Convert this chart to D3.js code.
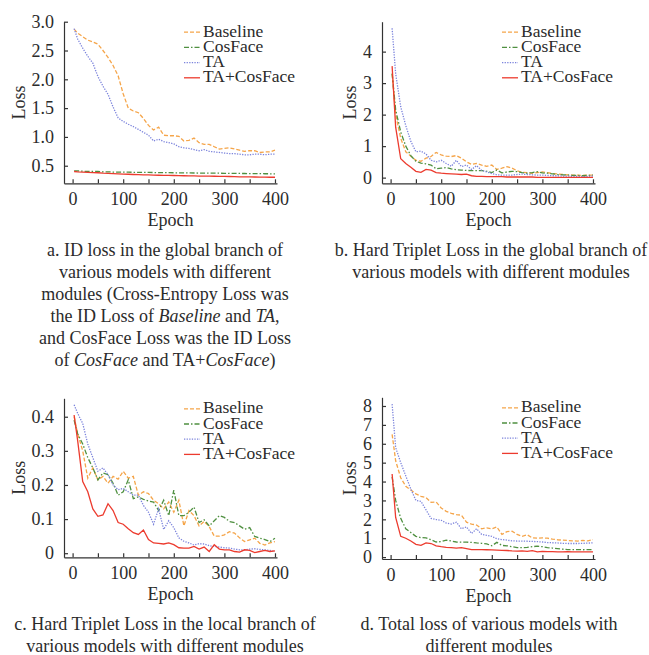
<!DOCTYPE html>
<html>
<head>
<meta charset="utf-8">
<script src="https://cdn.jsdelivr.net/npm/d3@7"></script>
<style>
  body { margin: 0; background: #fff; }
  svg text { font-family: "Liberation Serif", "Times New Roman", serif; fill: #2b2b2b; }
  .axis path, .axis line { stroke: #333; stroke-width: 1.2; }
  .axis text { font-size: 18px; }
</style>
</head>
<body>
<svg id="chart" width="649" height="655"></svg>
<script>
const epochs = [3, 10, 20, 30, 40, 50, 60, 70, 80, 90, 100, 110, 120, 130, 140, 150, 160, 170, 180, 190, 200,
  210, 220, 230, 240, 250, 260, 270, 280, 290, 300, 310, 320, 330, 340, 350, 360, 370, 380, 390, 400]
const seriesNames = ['Baseline', 'CosFace', 'TA', 'TA+CosFace']
const xTicks = [0, 50, 100, 150, 200, 250, 300, 350, 400]

// a. ID loss, global branch
const aBaseline = [2.87, 2.80, 2.74, 2.68, 2.65, 2.61, 2.50, 2.38, 2.24, 2.06, 1.75, 1.50, 1.45, 1.42, 1.32, 1.20, 1.12, 1.17, 1.03, 1.02,
  1.02, 1.01, 0.93, 0.94, 0.98, 0.90, 0.87, 0.87, 0.83, 0.79, 0.80, 0.81, 0.79, 0.77, 0.75, 0.76, 0.76, 0.73, 0.74, 0.74, 0.77]
const aCosFace = [0.41, 0.41, 0.405, 0.40, 0.40, 0.40, 0.395, 0.395, 0.39, 0.39, 0.39, 0.388, 0.386, 0.385, 0.384, 0.383, 0.382, 0.381, 0.38, 0.38,
  0.378, 0.377, 0.376, 0.375, 0.374, 0.373, 0.372, 0.371, 0.37, 0.37, 0.369, 0.368, 0.367, 0.366, 0.365, 0.364, 0.363, 0.362, 0.361, 0.36, 0.36]
const aTA = [2.88, 2.70, 2.54, 2.40, 2.28, 2.05, 1.88, 1.74, 1.52, 1.33, 1.27, 1.22, 1.18, 1.13, 1.08, 1.03, 0.93, 0.96, 0.92, 0.90,
  0.88, 0.83, 0.81, 0.80, 0.78, 0.76, 0.78, 0.75, 0.74, 0.73, 0.72, 0.71, 0.71, 0.70, 0.69, 0.69, 0.70, 0.70, 0.69, 0.70, 0.70]
const aTACosFace = [0.40, 0.395, 0.39, 0.385, 0.38, 0.378, 0.372, 0.368, 0.364, 0.36, 0.356, 0.352, 0.348, 0.345, 0.342, 0.34, 0.337, 0.335, 0.333, 0.331,
  0.33, 0.328, 0.326, 0.325, 0.323, 0.32, 0.319, 0.318, 0.317, 0.316, 0.315, 0.313, 0.31, 0.307, 0.305, 0.305, 0.304, 0.303, 0.302, 0.30, 0.30]
const aTicks = [0.5, 1.0, 1.5, 2.0, 2.5, 3.0]

// b. hard triplet loss, global branch
const bBaseline = [3.30, 2.00, 1.25, 0.82, 0.68, 0.55, 0.52, 0.62, 0.67, 0.80, 0.72, 0.68, 0.67, 0.70, 0.62, 0.50, 0.42, 0.45, 0.40, 0.36,
  0.40, 0.26, 0.30, 0.35, 0.30, 0.22, 0.17, 0.16, 0.14, 0.16, 0.18, 0.16, 0.13, 0.12, 0.10, 0.09, 0.08, 0.08, 0.07, 0.08, 0.08]
const bCosFace = [3.30, 2.15, 1.45, 1.00, 0.70, 0.52, 0.46, 0.44, 0.40, 0.28, 0.30, 0.32, 0.28, 0.25, 0.24, 0.23, 0.22, 0.22, 0.22, 0.20,
  0.16, 0.24, 0.15, 0.18, 0.20, 0.19, 0.16, 0.14, 0.16, 0.19, 0.15, 0.14, 0.12, 0.10, 0.09, 0.08, 0.07, 0.07, 0.06, 0.07, 0.08]
const bTA = [4.74, 3.30, 2.25, 1.65, 1.15, 0.82, 0.84, 0.75, 0.55, 0.50, 0.55, 0.45, 0.36, 0.55, 0.35, 0.40, 0.26, 0.38, 0.23, 0.18,
  0.13, 0.09, 0.08, 0.08, 0.08, 0.10, 0.11, 0.10, 0.09, 0.08, 0.08, 0.07, 0.06, 0.06, 0.05, 0.05, 0.04, 0.04, 0.03, 0.04, 0.05]
const bTACosFace = [3.54, 1.60, 0.60, 0.45, 0.33, 0.20, 0.17, 0.26, 0.24, 0.16, 0.14, 0.13, 0.12, 0.11, 0.10, 0.11, 0.06, 0.04, 0.04, 0.03,
  0.03, 0.03, 0.03, 0.02, 0.02, 0.02, 0.02, 0.02, 0.02, 0.01, 0.01, 0.01, 0.01, 0.01, 0.01, 0.01, 0.01, 0.01, 0.01, 0.01, 0.01]
const bTicks = [0, 1, 2, 3, 4]

// c. hard triplet loss, local branch
const cBaseline = [0.40, 0.35, 0.30, 0.22, 0.25, 0.215, 0.225, 0.205, 0.225, 0.217, 0.24, 0.22, 0.225, 0.17, 0.18, 0.175, 0.155, 0.145, 0.13, 0.15,
  0.12, 0.155, 0.08, 0.125, 0.11, 0.08, 0.093, 0.078, 0.05, 0.05, 0.054, 0.063, 0.059, 0.045, 0.034, 0.039, 0.044, 0.029, 0.024, 0.03, 0.034]
const cCosFace = [0.39, 0.35, 0.32, 0.28, 0.25, 0.215, 0.235, 0.23, 0.205, 0.17, 0.18, 0.215, 0.16, 0.165, 0.158, 0.153, 0.15, 0.125, 0.155, 0.11,
  0.185, 0.11, 0.11, 0.12, 0.135, 0.09, 0.098, 0.08, 0.095, 0.11, 0.105, 0.093, 0.09, 0.08, 0.07, 0.075, 0.049, 0.044, 0.04, 0.034, 0.044]
const cTA = [0.435, 0.41, 0.38, 0.32, 0.28, 0.24, 0.25, 0.23, 0.20, 0.186, 0.19, 0.18, 0.17, 0.17, 0.14, 0.12, 0.085, 0.13, 0.07, 0.095,
  0.075, 0.045, 0.035, 0.03, 0.024, 0.028, 0.027, 0.022, 0.02, 0.018, 0.016, 0.015, 0.012, 0.01, 0.01, 0.012, 0.013, 0.011, 0.01, 0.008, 0.005]
const cTACosFace = [0.405, 0.33, 0.21, 0.18, 0.13, 0.108, 0.112, 0.145, 0.125, 0.09, 0.085, 0.072, 0.06, 0.055, 0.068, 0.04, 0.03, 0.029, 0.027, 0.03,
  0.025, 0.016, 0.015, 0.015, 0.02, 0.012, 0.018, 0.005, 0.025, 0.012, 0.01, 0.01, 0.005, 0.003, 0.01, 0.008, 0.002, 0.005, 0.008, 0.005, 0.007]
const cTicks = [0, 0.1, 0.2, 0.3, 0.4]

// d. total loss
const dBaseline = [6.5, 5.1, 4.2, 3.75, 3.55, 3.35, 3.22, 3.15, 2.9, 2.92, 2.6, 2.42, 2.32, 2.25, 2.22, 1.85, 1.75, 1.7, 1.5, 1.55,
  1.5, 1.6, 1.2, 1.35, 1.37, 1.2, 1.1, 1.18, 1.02, 1.0, 1.02, 1.0, 0.95, 0.92, 0.9, 0.88, 0.86, 0.85, 0.88, 0.86, 0.92]
const dCosFace = [4.25, 3.0, 2.05, 1.5, 1.3, 1.1, 1.03, 1.02, 0.92, 0.8, 0.82, 0.9, 0.85, 0.8, 0.79, 0.79, 0.78, 0.75, 0.73, 0.7,
  0.6, 0.78, 0.62, 0.6, 0.55, 0.5, 0.5, 0.52, 0.55, 0.58, 0.55, 0.5, 0.48, 0.45, 0.42, 0.4, 0.4, 0.4, 0.39, 0.4, 0.4]
const dTA = [8.1, 5.8, 5.0, 4.3, 3.6, 3.0, 2.95, 2.5, 2.05, 1.99, 1.95, 1.8, 1.75, 1.85, 1.5, 1.6, 1.25, 1.5, 1.2, 1.15,
  1.1, 0.97, 0.93, 0.9, 0.86, 0.85, 0.85, 0.84, 0.83, 0.82, 0.8, 0.77, 0.76, 0.75, 0.73, 0.72, 0.72, 0.72, 0.73, 0.74, 0.76]
const dTACosFace = [4.4, 2.1, 1.1, 1.0, 0.85, 0.68, 0.62, 0.75, 0.72, 0.6, 0.55, 0.52, 0.5, 0.48, 0.5, 0.45, 0.4, 0.4, 0.4, 0.39,
  0.38, 0.37, 0.36, 0.35, 0.33, 0.32, 0.33, 0.3, 0.34, 0.28, 0.3, 0.29, 0.29, 0.28, 0.28, 0.29, 0.28, 0.28, 0.28, 0.28, 0.28]
const dTicks = [0, 1, 2, 3, 4, 5, 6, 7, 8]

const styles = [
  { color: '#f5a54a', dash: '4,2' },
  { color: '#4f9040', dash: '5,2,1.5,2' },
  { color: '#7c84dc', dash: '1.3,1.3' },
  { color: '#ec3b2e', dash: null }
]

const svg = d3.select('#chart')
svg.append('rect').attr('width', 649).attr('height', 655).attr('fill', '#fff')

const panels = [
  { left: 64, top: 21.7, bottom: 183.3, domain: [0.195, 3.0], ticks: aTicks, fmt: d3.format('.1f'),
    series: [aBaseline, aCosFace, aTA, aTACosFace], labelX: 25 },
  { left: 382, top: 21.7, bottom: 183.3, domain: [-0.18, 4.95], ticks: bTicks, fmt: d3.format('d'),
    series: [bBaseline, bCosFace, bTA, bTACosFace], labelX: 356 },
  { left: 64, top: 398.3, bottom: 557.3, domain: [-0.012, 0.454], ticks: cTicks, fmt: d => d === 0 ? '0' : d.toFixed(1),
    series: [cBaseline, cCosFace, cTA, cTACosFace], labelX: 25 },
  { left: 382, top: 397.3, bottom: 559, domain: [-0.1, 8.46], ticks: dTicks, fmt: d3.format('d'),
    series: [dBaseline, dCosFace, dTA, dTACosFace], labelX: 356 }
]

panels.forEach(drawPanel)

function drawPanel(p) {
  const x = d3.scaleLinear().domain([-17, 404]).range([p.left, p.left + 213])
  const y = d3.scaleLinear().domain(p.domain).range([p.bottom, p.top])
  const g = svg.append('g')

  const line = d3.line().x((d, i) => x(epochs[i])).y(d => y(d))
  p.series.forEach((values, k) => {
    g.append('path')
      .datum(values)
      .attr('d', line)
      .attr('fill', 'none')
      .attr('stroke', styles[k].color)
      .attr('stroke-width', 1.3)
      .attr('stroke-dasharray', styles[k].dash)
  })

  g.append('g')
    .attr('class', 'axis')
    .attr('transform', `translate(0,${p.bottom})`)
    .call(d3.axisBottom(x).tickValues(xTicks).tickSize(-4).tickSizeOuter(0).tickPadding(9)
      .tickFormat(d => d % 100 === 0 ? d : ''))

  g.append('g')
    .attr('class', 'axis')
    .attr('transform', `translate(${p.left},0)`)
    .call(d3.axisLeft(y).tickValues(p.ticks).tickSize(-4).tickSizeOuter(0).tickPadding(10).tickFormat(p.fmt))

  g.selectAll('.axis .domain').attr('stroke', '#333')
  g.selectAll('.axis text').attr('fill', '#2b2b2b')

  g.append('text')
    .attr('transform', `translate(${p.labelX},${(p.top + p.bottom) / 2}) rotate(-90)`)
    .attr('text-anchor', 'middle')
    .style('font-size', '18px')
    .text('Loss')

  g.append('text')
    .attr('x', p.left + 106.5)
    .attr('y', p.bottom + 43)
    .attr('text-anchor', 'middle')
    .style('font-size', '18px')
    .text('Epoch')

  // legend rows are set tight, as in the source figure
  const legend = g.append('g').attr('transform', `translate(${p.left + 120},${p.top + 15})`)
  seriesNames.forEach((name, k) => {
    const row = legend.append('g').attr('transform', `translate(0,${k * 15.2})`)
    row.append('line')
      .attr('x1', 0).attr('x2', 16).attr('y1', -4.5).attr('y2', -4.5)
      .attr('stroke', styles[k].color)
      .attr('stroke-width', 1.3)
      .attr('stroke-dasharray', styles[k].dash)
    row.append('text').attr('x', 19).style('font-size', '17.5px').text(name)
  })
}

// captions: each line is a list of [text, italic]
const captions = [
  { x: 165, y: 256, lines: [
    [['a. ID loss in the global branch of', false]],
    [['various models with different', false]],
    [['modules (Cross-Entropy Loss was', false]],
    [['the ID Loss of ', false], ['Baseline', true], [' and ', false], ['TA', true], [',', false]],
    [['and CosFace Loss was the ID Loss', false]],
    [['of ', false], ['CosFace', true], [' and TA+', false], ['CosFace', true], [')', false]]
  ] },
  { x: 491, y: 256, lines: [
    [['b. Hard Triplet Loss in the global branch of', false]],
    [['various models with different modules', false]]
  ] },
  { x: 165, y: 630, lines: [
    [['c. Hard Triplet Loss in the local branch of', false]],
    [['various models with different modules', false]]
  ] },
  { x: 489, y: 630, lines: [
    [['d. Total loss of various models with', false]],
    [['different modules', false]]
  ] }
]

captions.forEach(c => {
  c.lines.forEach((parts, i) => {
    const t = svg.append('text')
      .attr('x', c.x)
      .attr('y', c.y + i * 22)
      .attr('text-anchor', 'middle')
      .style('font-size', '18px')
    parts.forEach(([s, it]) => {
      t.append('tspan').style('font-style', it ? 'italic' : 'normal').text(s)
    })
  })
})
</script>
</body>
</html>
